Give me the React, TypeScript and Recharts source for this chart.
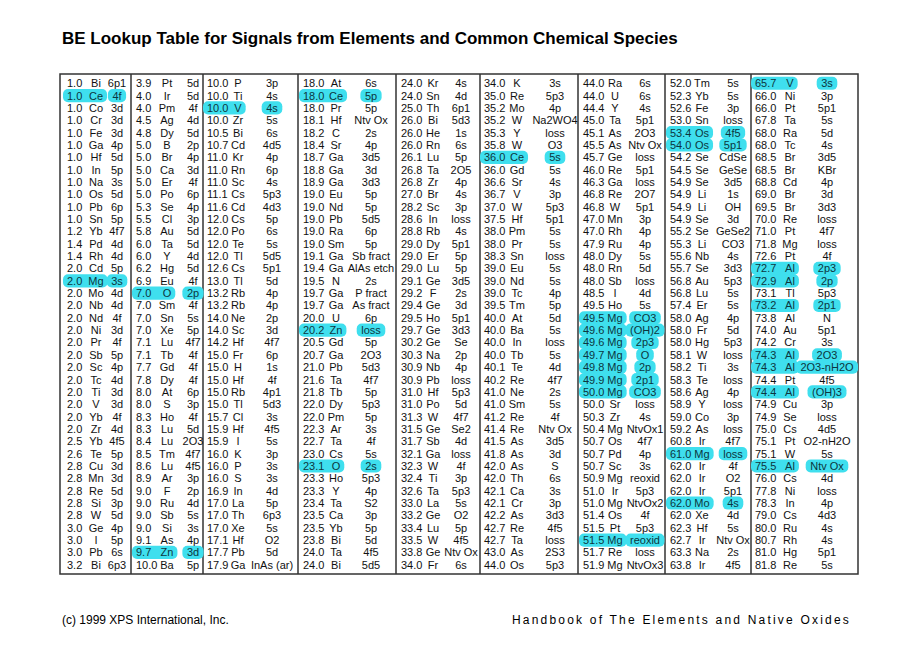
import React from 'react';
import { ScatterChart, Scatter, XAxis, YAxis, ReferenceLine, ReferenceArea } from 'recharts';

const TITLE = 'BE Lookup Table for Signals from Elements and Common Chemical Species';
const FOOTER_LEFT = '(c) 1999 XPS International, Inc.';
const FOOTER_RIGHT = 'Handbook of The Elements and Native Oxides';

// "BE element signal" per line, a leading * marks a highlighted line
const COL_1 = [
  '1.0 Bi 6p1', '*1.0 Ce 4f', '1.0 Co 3d', '1.0 Cr 3d', '1.0 Fe 3d', '1.0 Ga 4p', '1.0 Hf 5d', '1.0 In 5p',
  '1.0 Na 3s', '1.0 Os 5d', '1.0 Pb 6p', '1.0 Sn 5p', '1.2 Yb 4f7', '1.4 Pd 4d', '1.4 Rh 4d', '2.0 Cd 5p',
  '*2.0 Mg 3s', '2.0 Mo 4d', '2.0 Nb 4d', '2.0 Nd 4f', '2.0 Ni 3d', '2.0 Pr 4f', '2.0 Sb 5p', '2.0 Sc 4p',
  '2.0 Tc 4d', '2.0 Ti 3d', '2.0 V 3d', '2.0 Yb 4f', '2.0 Zr 4d', '2.5 Yb 4f5', '2.6 Te 5p', '2.8 Cu 3d',
  '2.8 Mn 3d', '2.8 Re 5d', '2.8 Si 3p', '2.8 W 5d', '3.0 Ge 4p', '3.0 I 5p', '3.0 Pb 6s', '3.2 Bi 6p3',
];
const COL_2 = [
  '3.9 Pt 5d', '4.0 Ir 5d', '4.0 Pm 4f', '4.5 Ag 4d', '4.8 Dy 5d', '5.0 B 2p', '5.0 Br 4p', '5.0 Ca 3d',
  '5.0 Er 4f', '5.0 Po 6p', '5.3 Se 4p', '5.5 Cl 3p', '5.8 Au 5d', '6.0 Ta 5d', '6.0 Y 4d', '6.2 Hg 5d',
  '6.9 Eu 4f', '*7.0 O 2p', '7.0 Sm 4f', '7.0 Sn 5s', '7.0 Xe 5p', '7.1 Lu 4f7', '7.1 Tb 4f', '7.7 Gd 4f',
  '7.8 Dy 4f', '8.0 At 6p', '8.0 S 3p', '8.3 Ho 4f', '8.3 Lu 5d', '8.4 Lu 2O3', '8.5 Tm 4f7', '8.6 Lu 4f5',
  '8.9 Ar 3p', '9.0 F 2p', '9.0 Ru 4d', '9.0 Sb 5s', '9.0 Si 3s', '9.1 As 4p', '*9.7 Zn 3d', '10.0 Ba 5p',
];
const COL_3 = [
  '10.0 P 3p', '10.0 Ti 4s', '*10.0 V 4s', '10.0 Zr 5s', '10.5 Bi 6s', '10.7 Cd 4d5', '11.0 Kr 4p', '11.0 Rn 6p',
  '11.0 Sc 4s', '11.1 Cs 5p3', '11.6 Cd 4d3', '12.0 Cs 5p', '12.0 Po 6s', '12.0 Te 5s', '12.0 Tl 5d5', '12.6 Cs 5p1',
  '13.0 Tl 5d', '13.2 Rb 4p', '13.2 Rb 4p', '14.0 Ne 2p', '14.0 Sc 3d', '14.2 Hf 4f7', '15.0 Fr 6p', '15.0 H 1s',
  '15.0 Hf 4f', '15.0 Rb 4p1', '15.0 Tl 5d3', '15.7 Cl 3s', '15.9 Hf 4f5', '15.9 I 5s', '16.0 K 3p', '16.0 P 3s',
  '16.0 S 3s', '16.9 In 4d', '17.0 La 5p', '17.0 Th 6p3', '17.0 Xe 5s', '17.1 Hf O2', '17.7 Pb 5d', '17.9 Ga InAs (ar)',
];
const COL_4 = [
  '18.0 At 6s', '*18.0 Ce 5p', '18.0 Pr 5p', '18.1 Hf Ntv Ox', '18.2 C 2s', '18.4 Sr 4p', '18.7 Ga 3d5', '18.8 Ga 3d',
  '18.9 Ga 3d3', '19.0 Eu 5p', '19.0 Nd 5p', '19.0 Pb 5d5', '19.0 Ra 6p', '19.0 Sm 5p', '19.1 Ga Sb fract', '19.4 Ga AlAs etch',
  '19.5 N 2s', '19.7 Ga P fract', '19.7 Ga As fract', '20.0 U 6p', '*20.2 Zn loss', '20.5 Gd 5p', '20.7 Ga 2O3', '21.0 Pb 5d3',
  '21.6 Ta 4f7', '21.8 Tb 5p', '22.0 Dy 5p3', '22.0 Pm 5p', '22.3 Ar 3s', '22.7 Ta 4f', '23.0 Cs 5s', '*23.1 O 2s',
  '23.3 Ho 5p3', '23.3 Y 4p', '23.4 Ta S2', '23.5 Ca 3p', '23.5 Yb 5p', '23.8 Bi 5d', '24.0 Ta 4f5', '24.0 Bi 5d5',
];
const COL_5 = [
  '24.0 Kr 4s', '24.0 Sn 4d', '25.0 Th 6p1', '26.0 Bi 5d3', '26.0 He 1s', '26.0 Rn 6s', '26.1 Lu 5p', '26.8 Ta 2O5',
  '26.8 Zr 4p', '27.0 Br 4s', '28.2 Sc 3p', '28.6 In loss', '28.8 Rb 4s', '29.0 Dy 5p1', '29.0 Er 5p', '29.0 Lu 5p',
  '29.1 Ge 3d5', '29.2 F 2s', '29.4 Ge 3d', '29.5 Ho 5p1', '29.7 Ge 3d3', '30.2 Ge Se', '30.3 Na 2p', '30.9 Nb 4p',
  '30.9 Pb loss', '31.0 Hf 5p3', '31.0 Po 5d', '31.3 W 4f7', '31.5 Ge Se2', '31.7 Sb 4d', '32.1 Ga loss', '32.3 W 4f',
  '32.4 Ti 3p', '32.6 Ta 5p3', '33.0 La 5s', '33.2 Ge O2', '33.4 Lu 5p', '33.5 W 4f5', '33.8 Ge Ntv Ox', '34.0 Fr 6s',
];
const COL_6 = [
  '34.0 K 3s', '35.0 Re 5p3', '35.2 Mo 4p', '35.2 W Na2WO4', '35.3 Y loss', '35.8 W O3', '*36.0 Ce 5s', '36.0 Gd 5s',
  '36.6 Sr 4s', '36.7 V 3p', '37.0 W 5p3', '37.5 Hf 5p1', '38.0 Pm 5s', '38.0 Pr 5s', '38.3 Sn loss', '39.0 Eu 5s',
  '39.0 Nd 5s', '39.0 Tc 4p', '39.5 Tm 5p', '40.0 At 5d', '40.0 Ba 5s', '40.0 In loss', '40.0 Tb 5s', '40.1 Te 4d',
  '40.2 Re 4f7', '41.0 Ne 2s', '41.0 Sm 5s', '41.2 Re 4f', '41.4 Re Ntv Ox', '41.5 As 3d5', '41.8 As 3d', '42.0 As S',
  '42.0 Th 6s', '42.1 Ca 3s', '42.1 Cr 3p', '42.2 As 3d3', '42.7 Re 4f5', '42.7 Ta loss', '43.0 As 2S3', '44.0 Os 5p3',
];
const COL_7 = [
  '44.0 Ra 6s', '44.0 U 6s', '44.4 Y 4s', '45.0 Ta 5p1', '45.1 As 2O3', '45.5 As Ntv Ox', '45.7 Ge loss', '46.0 Re 5p1',
  '46.3 Ga loss', '46.8 Re 2O7', '46.8 W 5p1', '47.0 Mn 3p', '47.0 Rh 4p', '47.9 Ru 4p', '48.0 Dy 5s', '48.0 Rn 5d',
  '48.0 Sb loss', '48.5 I 4d', '49.5 Ho 5s', '*49.5 Mg CO3', '*49.6 Mg (OH)2', '*49.6 Mg 2p3', '*49.7 Mg O', '*49.8 Mg 2p',
  '*49.9 Mg 2p1', '*50.0 Mg CO3', '50.0 Sr loss', '50.3 Zr 4s', '50.4 Mg NtvOx1', '50.7 Os 4f7', '50.7 Pd 4p', '50.7 Sc 3s',
  '50.9 Mg reoxid', '51.0 Ir 5p3', '51.0 Mg NtvOx2', '51.4 Os 4f', '51.5 Pt 5p3', '*51.5 Mg reoxid', '51.7 Re loss', '51.9 Mg NtvOx3',
];
const COL_8 = [
  '52.0 Tm 5s', '52.3 Yb 5s', '52.6 Fe 3p', '53.0 Sn loss', '*53.4 Os 4f5', '*54.0 Os 5p1', '54.2 Se CdSe', '54.5 Se GeSe',
  '54.9 Se 3d5', '54.9 Li 1s', '54.9 Li OH', '54.9 Se 3d', '55.2 Se GeSe2', '55.3 Li CO3', '55.6 Nb 4s', '55.7 Se 3d3',
  '56.8 Au 5p3', '56.8 Lu 5s', '57.4 Er 5s', '58.0 Ag 4p', '58.0 Fr 5d', '58.0 Hg 5p3', '58.1 W loss', '58.2 Ti 3s',
  '58.3 Te loss', '58.6 Ag 4p', '58.9 Y loss', '59.0 Co 3p', '59.2 As loss', '60.8 Ir 4f7', '*61.0 Mg loss', '62.0 Ir 4f',
  '62.0 Ir O2', '62.0 Ir 5p1', '*62.0 Mo 4s', '62.0 Xe 4d', '62.3 Hf 5s', '62.7 Ir Ntv Ox', '63.3 Na 2s', '63.8 Ir 4f5',
];
const COL_9 = [
  '*65.7 V 3s', '66.0 Ni 3p', '66.0 Pt 5p1', '67.8 Ta 5s', '68.0 Ra 5d', '68.0 Tc 4s', '68.5 Br 3d5', '68.5 Br KBr',
  '68.8 Cd 4p', '69.0 Br 3d', '69.5 Br 3d3', '70.0 Re loss', '71.0 Pt 4f7', '71.8 Mg loss', '72.6 Pt 4f', '*72.7 Al 2p3',
  '*72.9 Al 2p', '73.1 Tl 5p3', '*73.2 Al 2p1', '73.8 Al N', '74.0 Au 5p1', '74.2 Cr 3s', '*74.3 Al 2O3', '*74.3 Al 2O3-nH2O',
  '74.4 Pt 4f5', '*74.4 Al (OH)3', '74.9 Cu 3p', '74.9 Se loss', '75.0 Cs 4d5', '75.1 Pt O2-nH2O', '75.1 W 5s', '*75.5 Al Ntv Ox',
  '76.0 Cs 4d', '77.8 Ni loss', '78.3 In 4p', '79.0 Cs 4d3', '80.0 Ru 4s', '80.7 Rh 4s', '81.0 Hg 5p1', '81.8 Re 5s',
];
const COLUMNS = [COL_1, COL_2, COL_3, COL_4, COL_5, COL_6, COL_7, COL_8, COL_9];

// layout: column edges in px (x axis units), text offsets inside a column
const COL_EDGES = [0, 71, 143, 238, 336, 420, 518, 605, 691, 798];
const VAL_OFF = [7, 5, 4, 5, 5, 4, 5, 5, 4];
const EL_OFF = [36, 36, 35, 38, 37, 37, 37, 37, 39];
const ORB_OFF = [57, 62, 69, 73, 65, 75, 67, 68, 76];
const NROWS = 40;

const FONT = '"Liberation Sans", Arial, Helvetica, sans-serif';
const HIGHLIGHT = '#3fdfee';
const LINE = '#333';

const rows = COLUMNS.flatMap((col, c) =>
  col.map((s, r) => {
    const hi = s.startsWith('*');
    const parts = (hi ? s.slice(1) : s).split(' ');
    return { x: COL_EDGES[c], y: r, col: c, be: parts[0], el: parts[1], orb: parts.slice(2).join(' '), hi };
  })
);
const highlighted = rows.filter((d) => d.hi);

// rough Arial advance widths, enough to size the highlight pills
const W: Record<string, number> = {
  '.': 0.278, ' ': 0.278, '(': 0.333, ')': 0.333, '-': 0.333,
  A: 0.667, B: 0.667, C: 0.722, D: 0.722, E: 0.667, F: 0.611, G: 0.778, H: 0.722, I: 0.278, K: 0.667,
  L: 0.556, M: 0.833, N: 0.722, O: 0.778, P: 0.667, R: 0.722, S: 0.667, T: 0.611, U: 0.722, V: 0.667,
  W: 0.944, X: 0.667, Y: 0.667, Z: 0.611,
  c: 0.5, f: 0.278, i: 0.222, j: 0.222, k: 0.5, l: 0.222, m: 0.833, r: 0.333, s: 0.5, t: 0.278,
  v: 0.5, x: 0.5, y: 0.5, z: 0.5,
};
const textW = (s: string, size = 11) => s.split('').reduce((a, ch) => a + (W[ch] ?? 0.556), 0) * size;

const HighlightShape = (props: any) => {
  const { cx, cy, payload } = props;
  const c = payload.col;
  const x0 = cx + VAL_OFF[c] - 4;
  const x1 = cx + EL_OFF[c] + textW(payload.el) / 2 + 4;
  const ow = textW(payload.orb) + 9;
  const ox = cx + ORB_OFF[c] - ow / 2;
  return (
    <g>
      <rect x={x0} y={cy - 6.6} width={x1 - x0} height={13.2} rx={5} fill={HIGHLIGHT} />
      <rect x={ox} y={cy - 6.6} width={ow} height={13.2} rx={5} fill={HIGHLIGHT} />
    </g>
  );
};

const CellText = (props: any) => {
  const { cx, cy, payload } = props;
  const c = payload.col;
  const fill = payload.hi ? '#0c3640' : '#111';
  const common = { y: cy, dy: '0.36em', fontSize: 11, fontFamily: FONT, fill };
  return (
    <g>
      <text x={cx + VAL_OFF[c]} textAnchor="start" {...common}>{payload.be}</text>
      <text x={cx + EL_OFF[c]} textAnchor="middle" {...common}>{payload.el}</text>
      <text x={cx + ORB_OFF[c]} textAnchor="middle" {...common}>{payload.orb}</text>
    </g>
  );
};

export default function App() {
  return (
    <div style={{ position: 'relative', width: 904, height: 635, fontFamily: FONT, color: '#000' }}>
      <div style={{ position: 'absolute', left: 54, top: 21, fontSize: 17, fontWeight: 'bold', whiteSpace: 'nowrap' }}>
        {TITLE}
      </div>
      <ScatterChart width={904} height={620} margin={{ top: 66, left: 52, right: 54, bottom: 54 }}>
        <XAxis type="number" dataKey="x" domain={[0, COL_EDGES[COL_EDGES.length - 1]]} hide allowDataOverflow />
        <YAxis type="number" dataKey="y" domain={[-0.75, NROWS - 0.25]} reversed hide allowDataOverflow />
        <Scatter data={highlighted} shape={HighlightShape} isAnimationActive={false} />
        <Scatter data={rows} shape={CellText} isAnimationActive={false} />
        {COL_EDGES.slice(1, -1).map((e) => (
          <ReferenceLine key={e} x={e} stroke={LINE} strokeWidth={1.5} />
        ))}
        <ReferenceArea
          x1={0}
          x2={COL_EDGES[COL_EDGES.length - 1]}
          y1={-0.75}
          y2={NROWS - 0.25}
          fill="none"
          stroke={LINE}
          strokeWidth={1.5}
        />
      </ScatterChart>
      <div style={{ position: 'absolute', left: 54, top: 605, fontSize: 12, whiteSpace: 'nowrap' }}>{FOOTER_LEFT}</div>
      <div
        style={{ position: 'absolute', left: 504, top: 605, fontSize: 12, letterSpacing: 2.2, whiteSpace: 'nowrap' }}
      >
        {FOOTER_RIGHT}
      </div>
    </div>
  );
}
